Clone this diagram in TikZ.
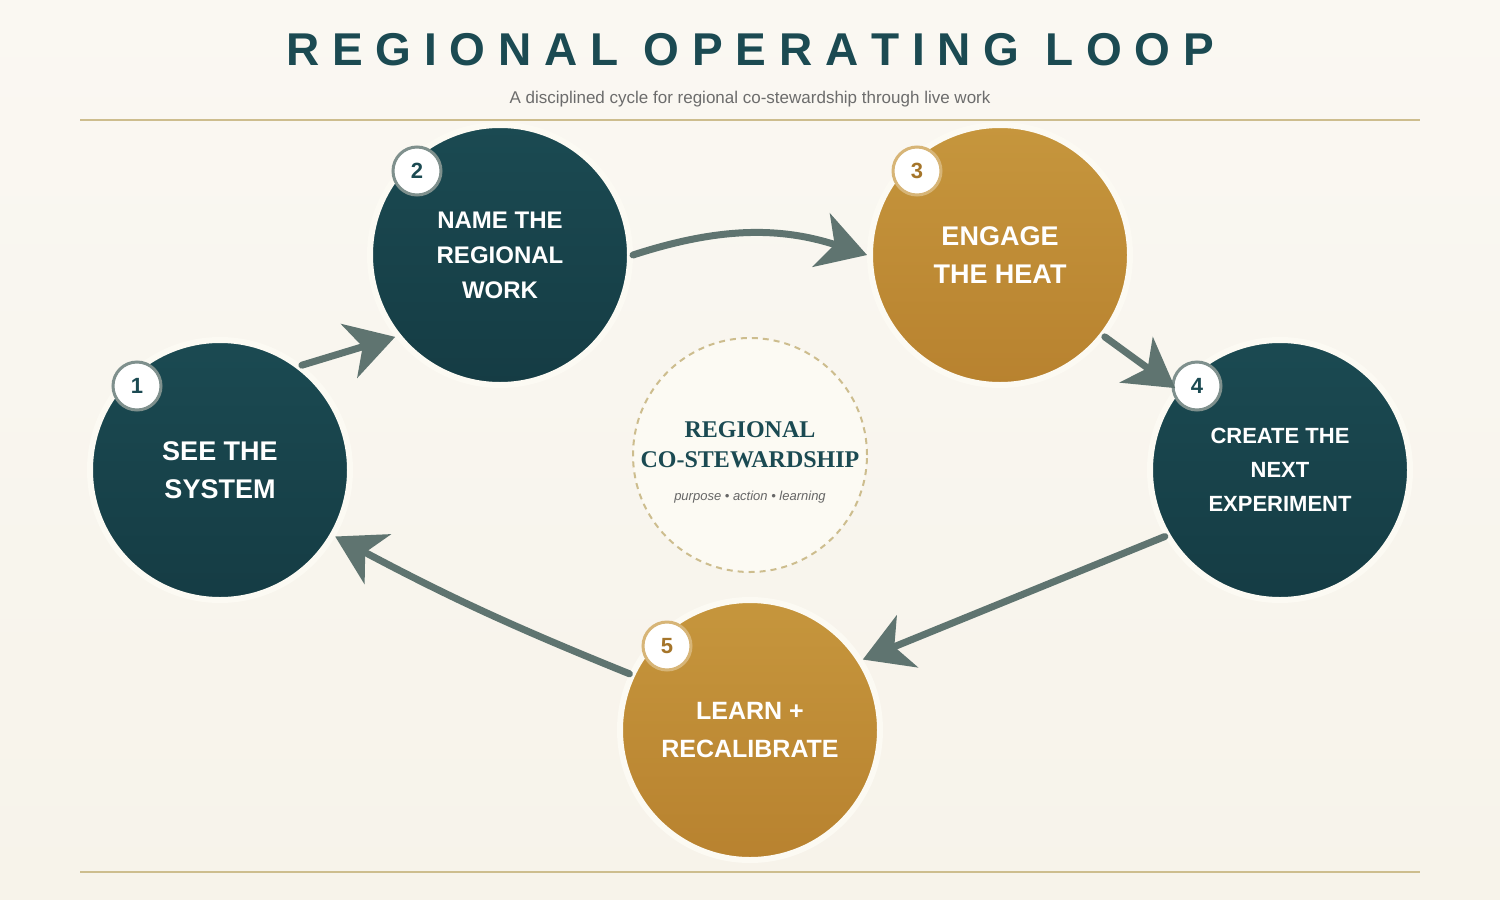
\documentclass[tikz,border=0pt]{standalone}
\usepackage{fontspec}
\setmainfont{Liberation Sans}
\newfontfamily\serifbold{Liberation Serif}
\usetikzlibrary{arrows.meta,shadings}
\definecolor{loopteal}{HTML}{1B4A52}
\definecolor{tealdark}{HTML}{153C44}
\definecolor{gold}{HTML}{C6963D}
\definecolor{golddark}{HTML}{B8822F}
\definecolor{arrowgray}{HTML}{5F7470}
\definecolor{rule}{HTML}{CDBD8E}
\definecolor{paper}{HTML}{F7F3EA}
\definecolor{ring}{HTML}{FCFAF3}
\tikzset{
  stage/.style={circle,minimum size=260pt,draw=ring,line width=6pt,text=white,
    align=center,font=\bfseries\fontsize{24}{35}\selectfont},
  tealstage/.style={stage,top color=loopteal,bottom color=tealdark},
  goldstage/.style={stage,top color=gold,bottom color=golddark},
  badge/.style={circle,minimum size=48pt,fill=white,line width=3pt,
    font=\bfseries\fontsize{22}{22}\selectfont},
  flow/.style={draw=arrowgray,line width=7pt,line cap=round,
    -{Stealth[length=48pt,width=56pt,inset=14pt]}},
}
\begin{document}
\begin{tikzpicture}[x=1pt,y=-1pt]
  \useasboundingbox (0,0) rectangle (1500,900);
  \shade[top color=paper!60!white,bottom color=paper] (0,0) rectangle (1500,900);

  % title
  \node (title) at (750,50) {\bfseries\fontsize{46}{46}\selectfont\color{loopteal}R E G I O N A L\ \ O P E R A T I N G\ \ L O O P};
  \node[text=gray!85!black,font=\fontsize{17}{17}\selectfont] (sub) at (750,99)
    {A disciplined cycle for regional co-stewardship through live work};
  \draw[rule,line width=1.5pt] (80,120) -- (1420,120);
  \draw[rule,line width=1.5pt] (80,872) -- (1420,872);

  % centre
  \node[circle,minimum size=234pt,fill=ring,draw=rule,line width=2pt,
    dash pattern=on 6pt off 5pt] (core) at (750,455) {};
  \node[align=center,text=loopteal,font=\serifbold\bfseries\fontsize{24}{30}\selectfont] (coretext) at (750,445)
    {REGIONAL\\CO-STEWARDSHIP};
  \node[text=gray!80!black,font=\itshape\fontsize{13}{13}\selectfont] (coresub) at (750,497)
    {purpose • action • learning};

  % stages
  \node[tealstage,font=\bfseries\fontsize{27}{38}\selectfont] (s1) at (220,470) {SEE THE\\SYSTEM};
  \node[tealstage] (s2) at (500,255) {NAME THE\\REGIONAL\\WORK};
  \node[goldstage,font=\bfseries\fontsize{27}{38}\selectfont] (s3) at (1000,255) {ENGAGE\\THE HEAT};
  \node[tealstage,font=\bfseries\fontsize{22}{34}\selectfont] (s4) at (1280,470) {CREATE THE\\NEXT\\EXPERIMENT};
  \node[goldstage,font=\bfseries\fontsize{25}{38}\selectfont] (s5) at (750,730) {LEARN +\\RECALIBRATE};

  % badges
  \node[badge,draw=arrowgray!80,text=loopteal] (b1) at (137,386) {1};
  \node[badge,draw=arrowgray!80,text=loopteal] (b2) at (417,171) {2};
  \node[badge,draw=gold!70,text=golddark!90!black] (b3) at (917,171) {3};
  \node[badge,draw=arrowgray!80,text=loopteal] (b4) at (1197,386) {4};
  \node[badge,draw=gold!70,text=golddark!90!black] (b5) at (667,646) {5};

  % connectors
  \draw[flow] (s1.52) -- (s2.218);
  \draw[flow] (s2.east) to[bend left=18] (s3.west);
  \draw[flow] (s3.-38) -- (s4.142);
  \draw[flow] (s4.210) -- (s5.32);
  \draw[flow] (s5.155) to[bend left=3] (s1.-30);
\end{tikzpicture}
\end{document}
